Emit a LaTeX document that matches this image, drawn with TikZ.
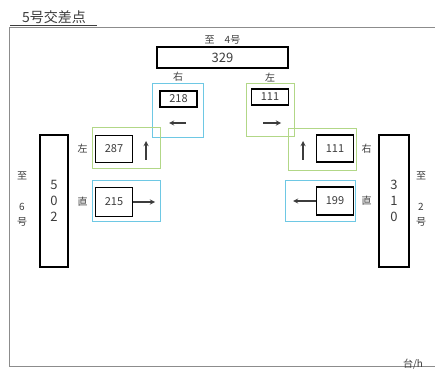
\documentclass[tikz,border=0pt]{standalone}
\usepackage{fontspec}
\setmainfont{Noto Sans CJK JP}
\usetikzlibrary{positioning}
\definecolor{txtgray}{RGB}{60,60,60}
\definecolor{framegray}{RGB}{140,140,140}
\definecolor{grpcyan}{RGB}{110,200,228}
\definecolor{grpgreen}{RGB}{178,215,135}

\begin{document}
\begin{tikzpicture}[
x=1pt, y=-1pt,
every node/.style={
inner sep=0pt,
text=txtgray,
font=\fontsize{10}{12}\selectfont
},
roadbox/.style={
draw=black,
line width=1.5pt,
align=center,
font=\fontsize{13}{16}\selectfont
},
countbox/.style={
draw=black,
line width=1.6pt,
minimum width=37pt,
font=\fontsize{11}{12}\selectfont
},
cyangroup/.style={draw=grpcyan, line width=0.8pt},
greengroup/.style={draw=grpgreen, line width=0.8pt},
turnarrow/.style={
->,
>=stealth,
line width=1.3pt,
draw=txtgray
}
]
\useasboundingbox (0,0) rectangle (435,371);

% frame and title
\draw[framegray, line width=0.6pt] (435,27) -- (9,27) -- (9,366) -- (435,366);
\node (title) at (54,17) {\fontsize{14}{16}\selectfont 5号交差点};
\draw[txtgray, line width=0.5pt] (10,25) -- (97,25);

% approach roads
\node[roadbox, minimum width=131pt, minimum height=21pt] (road4) at (222.5,57.5) {329};
\node (to4) [above=2pt of road4] {至\hspace{1em}4号};

\node[roadbox, minimum width=28pt, minimum height=132pt] (road6) at (54,201) {5\\0\\2};
\node (to6a) at (22,176) {至};
\node[align=center, font=\fontsize{10}{15}\selectfont] (to6b) at (22,215) {6\\号};

\node[roadbox, minimum width=30pt, minimum height=132pt] (road2) at (394,201) {3\\1\\0};
\node (to2a) at (421,176) {至};
\node[align=center, font=\fontsize{10}{15}\selectfont] (to2b) at (421,215) {2\\号};

% from 4: right / left
\node[cyangroup, minimum width=51pt, minimum height=54pt] (g218) at (178,110) {};
\node[countbox, minimum height=16pt] (c218) at (178.5,99) {218};
\node (l218) [above=1pt of g218] {右};
\draw[turnarrow] (186,123) -- (169,123);

\node[greengroup, minimum width=48pt, minimum height=53pt] (g111a) at (270,110) {};
\node[countbox, minimum height=16pt] (c111a) at (270,97) {111};
\node (l111a) [above=1pt of g111a] {左};
\draw[turnarrow] (263,123) -- (281,123);

% from 6: left / straight
\node[greengroup, minimum width=68pt, minimum height=41pt] (g287) at (126,147.5) {};
\node[countbox, minimum height=27pt] (c287) at (114,149) {287};
\node (l287) [left=7pt of c287] {左};
\draw[turnarrow] (146,160) -- (146,141);

\node[cyangroup, minimum width=68pt, minimum height=41pt] (g215) at (126,200.5) {};
\node[countbox, minimum height=29pt] (c215) at (114,202) {215};
\node (l215) [left=7pt of c215] {直};
\draw[turnarrow] (c215.east) -- (155,202);

% from 2: right / straight
\node[greengroup, minimum width=68pt, minimum height=42pt] (g111b) at (322,149) {};
\node[countbox, minimum height=27pt] (c111b) at (335,148.5) {111};
\node (l111b) [right=7pt of c111b] {右};
\draw[turnarrow] (303,160) -- (303,141);

\node[cyangroup, minimum width=70pt, minimum height=41pt] (g199) at (320,200.5) {};
\node[countbox, minimum height=28pt] (c199) at (335,201) {199};
\node (l199) [right=7pt of c199] {直};
\draw[turnarrow] (c199.west) -- (293,201);

% unit
\node (unit) at (413,364) {台/h};
\end{tikzpicture}
\end{document}
